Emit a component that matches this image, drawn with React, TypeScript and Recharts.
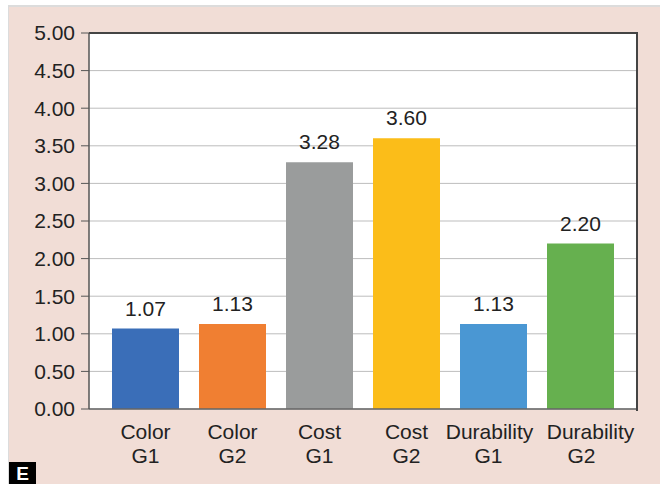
import { Bar, BarChart, CartesianGrid, Cell, LabelList, XAxis, YAxis } from "recharts";

const CATEGORIES = ["Color G1", "Color G2", "Cost G1", "Cost G2", "Durability G1", "Durability G2"];
const VALUES = [1.07, 1.13, 3.28, 3.6, 1.13, 2.2];
const Y_TICKS = [0, 0.5, 1, 1.5, 2, 2.5, 3, 3.5, 4, 4.5, 5];

const COLORS = ["#3a6eb8", "#f07f32", "#9a9c9c", "#fbbd19", "#4a97d3", "#66b04f"];
const FONT = "'Liberation Sans', Arial, sans-serif";
// the two long "Durability" labels are pushed apart so they don't collide
const LABEL_NUDGE: [number, number][] = [[0, 0], [0, 0], [0, 0], [0, 0], [-4, -5], [10, 1]];

const rows = CATEGORIES.map((name, i) => ({ name, value: VALUES[i] }));

function TwoLineTick({ x, y, payload, index }: any) {
  const [a, b] = String(payload.value).split(" ");
  const [n1, n2] = LABEL_NUDGE[index] || [0, 0];
  return (
    <text x={x} y={y} textAnchor="middle" fill="#222" fontSize={21} fontFamily={FONT}>
      <tspan x={x + n1} dy={22}>{a}</tspan>
      <tspan x={x + n2} dy={24}>{b}</tspan>
    </text>
  );
}

export default function App() {
  return (
    <div style={{ position: "absolute", left: 0, top: 0, width: 660, height: 484, overflow: "hidden", background: "#fff" }}>
      <div
        style={{
          position: "absolute",
          left: 8,
          top: 5,
          width: 652,
          height: 479,
          background: "#f1ddd6",
          borderTop: "2px solid #dcdcdc",
          borderLeft: "1px solid #dcdcdc",
        }}
      />
      <div style={{ position: "absolute", left: 0, top: 0 }}>
        <BarChart width={660} height={484} data={rows} margin={{ top: 33, right: 23, bottom: 15, left: 8 }} barSize={67}>
          <CartesianGrid vertical={false} stroke="#bdbdbd" fill="#fff" />
          <XAxis
            dataKey="name"
            height={60}
            tick={<TwoLineTick />}
            tickLine={false}
            axisLine={{ stroke: "#666", strokeWidth: 1.5 }}
            interval={0}
            padding={{ left: 13, right: 13 }}
          />
          <YAxis
            width={81}
            domain={[0, 5]}
            ticks={Y_TICKS}
            tickFormatter={(v: number) => v.toFixed(2)}
            tick={{ fill: "#222", fontSize: 21, fontFamily: FONT }}
            tickSize={8}
            tickMargin={6}
            tickLine={{ stroke: "#555" }}
            axisLine={{ stroke: "#555", strokeWidth: 1.5 }}
          />
          <Bar dataKey="value" isAnimationActive={false}>
            {rows.map((r, i) => (
              <Cell key={r.name} fill={COLORS[i]} />
            ))}
            <LabelList
              dataKey="value"
              position="top"
              offset={13}
              formatter={(v: any) => Number(v).toFixed(2)}
              fill="#222"
              fontSize={21}
              fontFamily={FONT}
            />
          </Bar>
        </BarChart>
      </div>
      {/* frame: top and right edges of the plot */}
      <div
        style={{
          position: "absolute",
          left: 89,
          top: 32,
          width: 547,
          height: 377,
          borderTop: "2px solid #444",
          borderRight: "2px solid #444",
          pointerEvents: "none",
        }}
      />
      <div
        style={{
          position: "absolute",
          left: 9,
          top: 462,
          width: 27,
          height: 22,
          background: "#000",
          color: "#fff",
          fontFamily: FONT,
          fontWeight: "bold",
          fontSize: 19,
          lineHeight: "24px",
          textAlign: "center",
        }}
      >
        E
      </div>
    </div>
  );
}
